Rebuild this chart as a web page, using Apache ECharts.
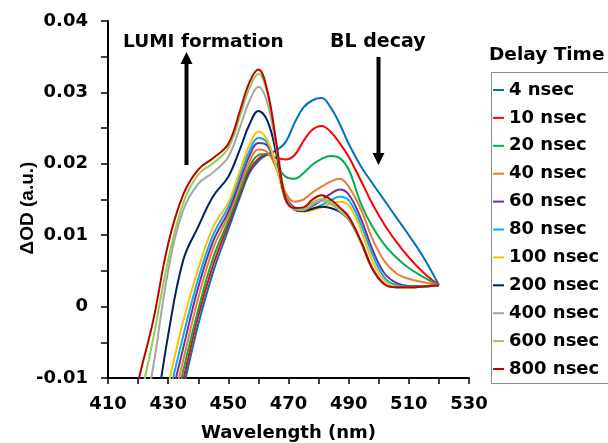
<!DOCTYPE html>
<html>
<head>
<meta charset="utf-8">
<script src="https://cdn.jsdelivr.net/npm/echarts@6/dist/echarts.min.js"></script>
<style>
html,body{margin:0;padding:0;background:#fff;}
#chart{width:608px;height:443px;}
</style>
</head>
<body>
<div id="chart"></div>
<script>
// ---- data ----
const wavelengths = [415, 420, 425, 430, 435, 440, 445, 450, 454, 457, 460, 463, 466, 469, 472, 475, 478, 481, 484, 487, 490, 494, 498, 502, 506, 510, 515, 520];
const delayTimes = ['4 nsec', '10 nsec', '20 nsec', '40 nsec', '60 nsec', '80 nsec', '100 nsec', '200 nsec', '400 nsec', '600 nsec', '800 nsec'];
const od4ns   = [-0.047, -0.038, -0.029, -0.0203, -0.0115, -0.0025, 0.0049, 0.0108, 0.0155, 0.0187, 0.0204, 0.0213, 0.0219, 0.0230, 0.0257, 0.0279, 0.0289, 0.0292, 0.0279, 0.0256, 0.0228, 0.0197, 0.0172, 0.0148, 0.0124, 0.0100, 0.0068, 0.0030];
const od10ns  = [-0.045, -0.0365, -0.0278, -0.019, -0.0103, -0.0013, 0.0059, 0.0115, 0.0160, 0.0191, 0.0207, 0.0213, 0.0208, 0.0206, 0.0212, 0.0232, 0.0248, 0.0253, 0.0245, 0.0229, 0.0210, 0.0177, 0.0143, 0.0114, 0.0090, 0.0069, 0.0047, 0.0030];
const od20ns  = [-0.044, -0.035, -0.0265, -0.0179, -0.009, -0.0004, 0.0069, 0.0120, 0.0164, 0.0196, 0.0212, 0.0214, 0.0199, 0.0182, 0.0179, 0.0187, 0.0199, 0.0207, 0.0211, 0.0208, 0.0192, 0.0145, 0.0111, 0.0086, 0.0068, 0.0054, 0.0041, 0.0030];
const od40ns  = [-0.042, -0.034, -0.025, -0.0163, -0.0075, 0.0012, 0.0082, 0.0127, 0.0171, 0.0203, 0.0220, 0.0216, 0.0193, 0.0160, 0.0147, 0.0150, 0.0160, 0.0168, 0.0175, 0.0179, 0.0168, 0.0137, 0.0094, 0.0063, 0.0046, 0.0039, 0.0034, 0.0030];
const od60ns  = [-0.040, -0.032, -0.023, -0.0145, -0.0058, 0.0027, 0.0092, 0.0133, 0.0178, 0.0211, 0.0229, 0.0225, 0.0195, 0.0155, 0.0139, 0.0137, 0.0141, 0.0149, 0.0158, 0.0164, 0.0157, 0.0124, 0.0079, 0.0046, 0.0033, 0.0029, 0.0029, 0.0030];
const od80ns  = [-0.039, -0.030, -0.0217, -0.0129, -0.0041, 0.0039, 0.0101, 0.0140, 0.0185, 0.0218, 0.0236, 0.0229, 0.0195, 0.0151, 0.0136, 0.0134, 0.0137, 0.0142, 0.0149, 0.0154, 0.0149, 0.0116, 0.0072, 0.0040, 0.0030, 0.0028, 0.0028, 0.0030];
const od100ns = [-0.037, -0.0285, -0.0198, -0.011, -0.002, 0.0053, 0.0112, 0.0146, 0.0192, 0.0226, 0.0245, 0.0233, 0.0195, 0.0150, 0.0136, 0.0133, 0.0135, 0.0139, 0.0144, 0.0147, 0.0142, 0.0108, 0.0063, 0.0036, 0.0028, 0.0027, 0.0028, 0.0030];
const od200ns = [-0.040, -0.030, -0.0175, -0.004, 0.0065, 0.0112, 0.0155, 0.0182, 0.0222, 0.0255, 0.0274, 0.0260, 0.0213, 0.0150, 0.0136, 0.0134, 0.0137, 0.0140, 0.0138, 0.0133, 0.0122, 0.0092, 0.0053, 0.0031, 0.0027, 0.0027, 0.0028, 0.0030];
const od400ns = [-0.030, -0.0195, -0.0085, 0.0050, 0.0135, 0.0172, 0.0188, 0.0210, 0.0253, 0.0288, 0.0308, 0.0285, 0.0222, 0.0152, 0.0136, 0.0135, 0.0143, 0.0148, 0.0144, 0.0134, 0.0122, 0.0090, 0.0052, 0.0031, 0.0027, 0.0027, 0.0028, 0.0030];
const od600ns = [-0.025, -0.0145, -0.0045, 0.0065, 0.0145, 0.0185, 0.0201, 0.0222, 0.0268, 0.0306, 0.0326, 0.0298, 0.0226, 0.0155, 0.0138, 0.0137, 0.0146, 0.0151, 0.0146, 0.0136, 0.0124, 0.0091, 0.0052, 0.0031, 0.0027, 0.0027, 0.0028, 0.0030];
const od800ns = [-0.021, -0.0106, -0.0020, 0.0088, 0.0157, 0.0192, 0.0208, 0.0228, 0.0276, 0.0314, 0.0332, 0.0302, 0.0228, 0.0152, 0.0138, 0.0139, 0.0150, 0.0156, 0.0150, 0.0139, 0.0126, 0.0092, 0.0052, 0.0031, 0.0027, 0.0027, 0.0028, 0.0030];
const xTickLabels = ['410', '430', '450', '470', '490', '510', '530'];
const yTickLabels = ['-0.01', '0', '0.01', '0.02', '0.03', '0.04'];

const seriesValues = [od4ns, od10ns, od20ns, od40ns, od60ns, od80ns, od100ns, od200ns, od400ns, od600ns, od800ns];
const colors = ['#0070C0', '#FF0000', '#00B050', '#ED7D31', '#7030A0', '#00B0F0', '#FFC000', '#002060', '#A5A5A5', '#92D050', '#C00000'];

const FONT = '"DejaVu Sans", sans-serif';

const chart = echarts.init(document.getElementById('chart'), null, {renderer: 'canvas'});

const series = delayTimes.map((name, k) => ({
  name: name,
  type: 'line',
  data: wavelengths.map((w, i) => [w, seriesValues[k][i]]),
  showSymbol: false,
  smooth: 0.4,
  lineStyle: {width: 2, color: colors[k]},
  itemStyle: {color: colors[k]},
  clip: true,
  z: 2
}));

const option = {
  animation: false,
  backgroundColor: '#fff',
  grid: {left: 108, top: 21, right: 139, bottom: 65, containLabel: false, outerBoundsMode: 'none'},
  xAxis: {
    type: 'value', min: 410, max: 530, interval: 10,
    name: 'Wavelength (nm)', nameLocation: 'middle', nameGap: 46, nameMoveOverlap: false,
    nameTextStyle: {fontFamily: FONT, fontWeight: 'bold', fontSize: 18, color: '#000'},
    axisLine: {show: true, onZero: false, lineStyle: {color: '#000', width: 2}},
    axisTick: {show: true, inside: false, length: 6, lineStyle: {color: '#000', width: 1.5}},
    splitLine: {show: false},
    axisLabel: {
      margin: 17, fontFamily: FONT, fontWeight: 'bold', fontSize: 18, color: '#000',
      formatter: function (v) { const s = String(Math.round(v)); return xTickLabels.indexOf(s) >= 0 ? s : ''; }
    }
  },
  yAxis: {
    type: 'value', min: -0.01, max: 0.04, interval: 0.005,
    name: 'ΔOD (a.u.)', nameLocation: 'middle', nameGap: 71, nameRotate: 90, nameMoveOverlap: false,
    nameTextStyle: {fontFamily: '"Liberation Sans", Arial, sans-serif', fontWeight: 'bold', fontSize: 19, color: '#000', padding: [0, 17, 0, 0]},
    axisLine: {show: true, onZero: false, lineStyle: {color: '#000', width: 2}},
    axisTick: {show: true, inside: false, length: 7, lineStyle: {color: '#000', width: 1.5}},
    splitLine: {show: false},
    axisLabel: {
      margin: 20, fontFamily: FONT, fontWeight: 'bold', fontSize: 18, color: '#000',
      formatter: function (v) {
        const k = Math.round(v * 1000);
        if (k % 10 !== 0) return '';
        const s = k === 0 ? '0' : (k / 1000).toFixed(2);
        return yTickLabels.indexOf(s) >= 0 ? s : '';
      }
    }
  },
  legend: {
    orient: 'vertical', left: 493, top: 80, padding: 0,
    itemWidth: 11, itemHeight: 2, icon: 'rect', itemGap: 7.9,
    selectedMode: false,
    textStyle: {fontFamily: FONT, fontWeight: 'bold', fontSize: 18, color: '#000', lineHeight: 20},
    data: delayTimes
  },
  graphic: [
    {type: 'text', left: 123, top: 33, style: {text: 'LUMI formation', font: 'bold 18.5px ' + FONT, fill: '#000'}},
    {type: 'text', left: 330, top: 33, style: {text: 'BL decay', font: 'bold 19px ' + FONT, fill: '#000'}},
    {type: 'text', left: 489, top: 46, style: {text: 'Delay Time', font: 'bold 18.5px ' + FONT, fill: '#000'}},
    {type: 'rect', shape: {x: 491.5, y: 72.5, width: 140, height: 311}, style: {fill: 'none', stroke: '#8c8c8c', lineWidth: 1}, silent: true},
    {type: 'line', shape: {x1: 186.5, y1: 165, x2: 186.5, y2: 62}, style: {stroke: '#000', lineWidth: 4}},
    {type: 'polygon', shape: {points: [[180.5, 64], [192.5, 64], [186.5, 52]]}, style: {fill: '#000'}},
    {type: 'line', shape: {x1: 378.5, y1: 57, x2: 378.5, y2: 155}, style: {stroke: '#000', lineWidth: 4}},
    {type: 'polygon', shape: {points: [[372.5, 153], [384.5, 153], [378.5, 165]]}, style: {fill: '#000'}}
  ],
  series: series
};
chart.setOption(option);

// make sure the left axis spine is drawn at the axis position computed by ECharts
const pBottom = chart.convertToPixel({gridIndex: 0}, [410, -0.01]);
const pTop = chart.convertToPixel({gridIndex: 0}, [410, 0.04]);
chart.setOption({
  graphic: option.graphic.concat([
    {type: 'line', shape: {x1: pBottom[0], y1: pBottom[1] + 1, x2: pTop[0], y2: pTop[1]}, style: {stroke: '#000', lineWidth: 2}, z: 10}
  ])
});
</script>
</body>
</html>
